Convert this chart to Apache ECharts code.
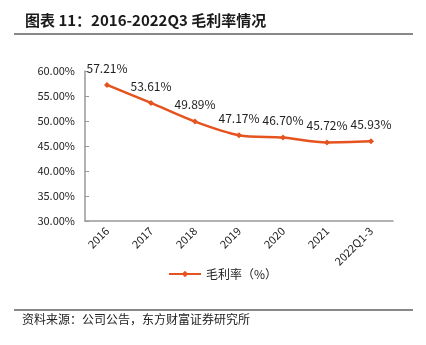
<!DOCTYPE html>
<html>
<head>
<meta charset="utf-8">
<script src="https://cdn.jsdelivr.net/npm/echarts@6/dist/echarts.min.js"></script>
<style>
  html, body { margin: 0; padding: 0; background: #fff; }
  #chart { width: 426px; height: 345px; }
</style>
</head>
<body>
<div id="chart"></div>
<script>
// Gross margin by period
const categories = ['2016', '2017', '2018', '2019', '2020', '2021', '2022Q1-3'];
const grossMargin = [57.21, 53.61, 49.89, 47.17, 46.70, 45.72, 45.93];
const seriesName = '毛利率（%）';
const titleText = '图表 11：2016-2022Q3 毛利率情况';
const sourceText = '资料来源：公司公告，东方财富证券研究所';

const FONT = '"Noto Sans CJK SC", "Noto Sans", sans-serif';
const chart = echarts.init(document.getElementById('chart'), null, { renderer: 'canvas' });

chart.setOption({
  animation: false,
  textStyle: { fontFamily: FONT },
  graphic: [
    { type: 'text', left: 25, top: 13,
      style: { text: titleText, font: 'bold 15px ' + FONT, fill: '#1a1a1a' } },
    { type: 'line', shape: { x1: 14, y1: 34, x2: 413, y2: 34 },
      style: { stroke: '#888', lineWidth: 2 } },
    { type: 'line', shape: { x1: 14, y1: 310, x2: 413, y2: 310 },
      style: { stroke: '#888', lineWidth: 2 } },
    { type: 'text', left: 22, top: 313,
      style: { text: sourceText, font: '12px ' + FONT, fill: '#222' } }
  ],
  legend: {
    data: [seriesName],
    left: 163, top: 263,
    itemWidth: 32, itemHeight: 8, itemGap: 4,
    textStyle: { fontSize: 12, color: '#222', fontFamily: FONT }
  },
  grid: { left: 85, right: 33, top: 71, bottom: 124 },
  xAxis: {
    type: 'category',
    data: categories,
    boundaryGap: true,
    axisLine: { lineStyle: { color: '#999', width: 1.5 } },
    axisTick: { inside: true, length: 4, lineStyle: { color: '#999' } },
    axisLabel: { rotate: 45, fontSize: 11, color: '#222', margin: 8, fontFamily: FONT }
  },
  yAxis: {
    type: 'value',
    min: 30, max: 60, interval: 5,
    axisLine: { show: true, lineStyle: { color: '#999', width: 1.5 } },
    axisTick: { show: true, inside: true, length: 4, lineStyle: { color: '#999' } },
    splitLine: { show: false },
    axisLabel: {
      fontSize: 11, color: '#222', margin: 10, fontFamily: FONT,
      formatter: v => v.toFixed(2) + '%'
    }
  },
  series: [{
    name: seriesName,
    type: 'line',
    data: grossMargin,
    smooth: 0.3,
    symbol: 'diamond',
    symbolSize: 6,
    itemStyle: { color: '#E5531F' },
    lineStyle: { color: '#E5531F', width: 2.5 },
    label: {
      show: true, position: 'top', distance: 8,
      fontSize: 12, color: '#222', fontFamily: FONT,
      formatter: p => p.value.toFixed(2) + '%'
    }
  }]
});
</script>
</body>
</html>
